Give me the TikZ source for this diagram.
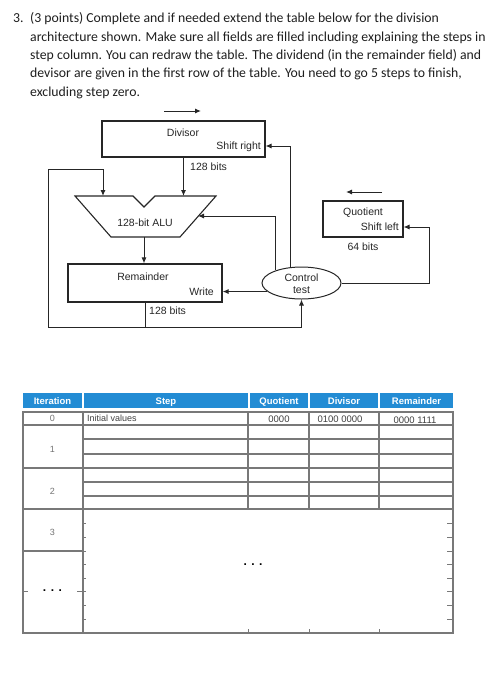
\documentclass[tikz,border=0pt]{standalone}
\usepackage{fontspec}
\setmainfont{Carlito}
\newfontfamily\arial{Liberation Sans}
\usetikzlibrary{arrows.meta,shapes.geometric,calc}
\definecolor{hdrblue}{RGB}{35,140,212}
\definecolor{gridgrey}{RGB}{120,120,120}
\definecolor{qtext}{RGB}{30,30,30}
\begin{document}
\begin{tikzpicture}[x=1pt,y=-1pt,
  wire/.style={line width=1pt, draw=black!85},
  arr/.style={wire,-{Latex[length=6pt,width=5pt]}},
  regbox/.style={draw=black!85, line width=1.1pt, inner sep=0pt, fill=white},
  lbl/.style={font=\arial\fontsize{10.5}{12}\selectfont, text=black!85, inner sep=0pt},
  qline/.style={anchor=base west, font=\fontsize{13.75}{17}\selectfont, text=qtext, inner sep=0pt},
  hdr/.style={fill=hdrblue, draw=none},
  hdrtxt/.style={font=\arial\bfseries\fontsize{9.5}{11}\selectfont, text=white, inner sep=0pt, anchor=base},
  cell/.style={font=\arial\fontsize{9.5}{11}\selectfont, text=black!75, inner sep=0pt, anchor=base},
  itnum/.style={font=\arial\fontsize{9}{11}\selectfont, text=black!55, inner sep=0pt, anchor=base},
  dots/.style={font=\arial\bfseries\fontsize{12}{12}\selectfont, text=black, inner sep=0pt},
  grid/.style={draw=gridgrey, line width=1.1pt},
  tickmark/.style={draw=gridgrey, line width=0.8pt},
]
\useasboundingbox (0,0) rectangle (501,678);

% ---- question text ----
\node[qline] (q0) at (13,22.7) {3.};
\node[qline] (q1) at (30,22.7) {(3 points) Complete and if needed extend the table below for the division};
\node[qline] (q2) at (30,41) {architecture shown. Make sure all fields are filled including explaining the steps in};
\node[qline] (q3) at (30,59.4) {step column. You can redraw the table. The dividend (in the remainder field) and};
\node[qline] (q4) at (30,77.8) {devisor are given in the first row of the table. You need to go 5 steps to finish,};
\node[qline] (q5) at (30,96.2) {excluding step zero.};

% ---- diagram ----
\node[regbox, minimum width=163pt, minimum height=36pt] (div) at (183.5,139) {};
\node[regbox, minimum width=154pt, minimum height=38pt] (rem) at (145,283) {};
\node[regbox, minimum width=80pt, minimum height=36pt] (quo) at (363,219) {};
\node[draw=black!85, line width=1pt, fill=white, ellipse, inner sep=0pt,
      minimum width=79pt, minimum height=32pt] (ctl) at (301.5,283) {};

% ALU
\draw[wire, line width=1.1pt, line join=miter] (75,196) -- (133,196) -- (144,207) -- (155,196)
   -- (216,196) -- (180,237) -- (111,237) -- cycle;
\coordinate (aluTop) at (184,196);
\coordinate (aluIn1) at (103,196);
\coordinate (aluR) at (198,216);
\coordinate (aluBot) at (144,237);

% labels
\node[lbl, anchor=base] (tdiv) at (183,136.7) {Divisor};
\node[lbl, anchor=base east] (tsr) at (261,149.5) {Shift right};
\node[lbl, anchor=base west] (tb1) at (190,170) {128 bits};
\node[lbl, anchor=base] (talu) at (145,226) {128-bit ALU};
\node[lbl, anchor=base] (trem) at (143,280.7) {Remainder};
\node[lbl, anchor=base east] (twr) at (214,295) {Write};
\node[lbl, anchor=base west] (tb2) at (149,314) {128 bits};
\node[lbl, anchor=base] (tquo) at (363,215.7) {Quotient};
\node[lbl, anchor=base east] (tsl) at (399,230) {Shift left};
\node[lbl, anchor=base] (tb3) at (363,250.7) {64 bits};
\node[lbl, anchor=base] (tc1) at (301.5,281) {Control};
\node[lbl, anchor=base] (tc2) at (301.5,293.3) {test};

% connectors
\coordinate (srIn) at (265.5,146);
\coordinate (slIn) at (403.5,227);
\coordinate (qr) at (429,227);
\coordinate (lb) at (48,327);
\coordinate (lt) at (48,169);
\coordinate (cb) at (301.5,327);
\draw[arr] (div.south) -- (div.south |- aluTop);
\draw[arr] (rem.south) |- (lb) -- (lt) -| (aluIn1);
\draw[wire] (rem.south) |- (cb);
\draw[arr] (cb) -- (ctl.south);
\draw[arr] (aluBot) -- (aluBot |- rem.north);
\draw[arr] (ctl.194) -- (ctl.194 -| rem.east);
\draw[arr] (ctl.154) |- (aluR);
\draw[arr] (ctl.124) |- (srIn);
\draw[arr] (ctl.east) -| (qr) -- (slIn);

% direction arrows
\coordinate (da1) at (164,111);
\coordinate (da2) at (201,111);
\coordinate (qa1) at (382,192);
\coordinate (qa2) at (346,192);
\draw[arr] (da1) -- (da2);
\draw[arr] (qa1) -- (qa2);

% ---- table ----
\fill[hdr] (23,393) rectangle (82,408);
\fill[hdr] (84,393) rectangle (248,408);
\fill[hdr] (250,393) rectangle (308,408);
\fill[hdr] (310,393) rectangle (378,408);
\fill[hdr] (380,393) rectangle (453,408);
\node[hdrtxt] (h1) at (52.5,404) {Iteration};
\node[hdrtxt] (h2) at (166,404) {Step};
\node[hdrtxt] (h3) at (279,404) {Quotient};
\node[hdrtxt] (h4) at (344,404) {Divisor};
\node[hdrtxt] (h5) at (416.5,404) {Remainder};

\draw[grid] (23,412) rectangle (453,633);
\draw[grid] (83,412) -- (83,633);
\foreach \x in {248,309,379} \draw[grid] (\x,412) -- (\x,509);
\foreach \y in {425,468,509} \draw[grid] (23,\y) -- (453,\y);
\foreach \y in {439,454,482,496} \draw[grid] (83,\y) -- (453,\y);
\draw[grid] (23,551) -- (83,551);
\foreach \y in {523,537,551,564,578,591,605,619} {
  \draw[tickmark] (83,\y) -- (86,\y);
  \draw[tickmark] (447,\y) -- (453,\y);
}
\draw[tickmark] (23,591) -- (28,591);
\draw[tickmark] (77,591) -- (83,591);
\foreach \x in {248,309,379} \draw[tickmark] (\x,629) -- (\x,633);

\node[itnum] (r0) at (52.5,421.7) {0};
\node[cell, anchor=base west, font=\arial\fontsize{9}{11}\selectfont] (r0s) at (87,421.7) {Initial values};
\node[cell] (r0q) at (279,422.5) {0000};
\node[cell] (r0d) at (340,422.5) {0100 0000};
\node[cell] (r0r) at (415,423) {0000 1111};
\node[itnum] (r1) at (52.5,452) {1};
\node[itnum] (r2) at (52.5,494.5) {2};
\node[itnum] (r3) at (52.5,535) {3};
\node[dots] (rd) at (52.5,591) {.\hspace{4.5pt}.\hspace{4.5pt}.};
\node[dots] (md) at (253,565) {.\hspace{4.5pt}.\hspace{4.5pt}.};
\end{tikzpicture}
\end{document}
